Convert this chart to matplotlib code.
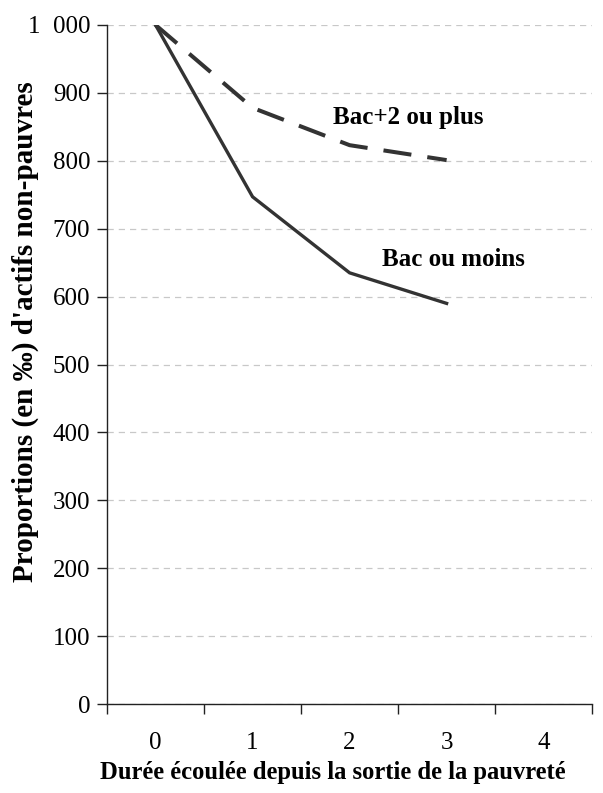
import matplotlib
matplotlib.use("Agg")
import matplotlib.pyplot as plt
import numpy as np

# données (en pour mille)
durees = [0, 1, 2, 3, 4]
bac_moins = [1000, 747, 635, 590]
bac_plus2 = [1000, 878, 823, 801]
y_ticks = [0, 100, 200, 300, 400, 500, 600, 700, 800, 900, 1000]
y_labels = ["0", "100", "200", "300", "400", "500", "600", "700", "800", "900", "1  000"]

plt.rcParams['font.family'] = ['Liberation Serif', 'DejaVu Serif']

fig = plt.figure(figsize=(6.03, 7.93), dpi=100)
ax = fig.add_axes([0.1775, 0.1122, 0.8045, 0.8563])

col = '#333333'
ax.plot(durees[:len(bac_moins)], bac_moins, color=col, lw=2.4, solid_joinstyle='miter', zorder=3)
ax.plot(durees[:len(bac_plus2)], bac_plus2, color=col, lw=2.9, dashes=(7, 4), zorder=3)

ax.set_xlim(-0.5, 4.5)
ax.set_ylim(0, 1000)
ax.set_yticks(y_ticks)
ax.set_yticklabels(y_labels)
ax.set_xticks(durees)
ax.set_xticklabels([str(d) for d in durees])
ax.set_xticks(np.arange(-0.5, 4.6, 1), minor=True)
ax.tick_params(axis='x', which='major', length=0, pad=20, labelsize=18)
ax.tick_params(axis='x', which='minor', length=7, width=1, direction='out', color='#222222')
ax.tick_params(axis='y', length=7, width=1, pad=5, labelsize=18, color='#222222')

ax.yaxis.grid(True, color='#c8c8c8', linestyle=(0, (5, 4)), lw=0.9)
ax.set_axisbelow(True)
for s in ['top', 'right']:
    ax.spines[s].set_visible(False)
for s in ['left', 'bottom']:
    ax.spines[s].set_color('#222222')
    ax.spines[s].set_linewidth(1)

ax.text(1.83, 864, "Bac+2 ou plus", fontsize=18, fontweight='bold', va='center', ha='left')
ax.text(2.335, 655, "Bac ou moins", fontsize=18, fontweight='bold', va='center', ha='left')

fig.text(333 / 603, 1 - 773 / 793, "Durée écoulée depuis la sortie de la pauvreté",
         fontsize=17.7, fontweight='bold', ha='center', va='center')
fig.text(25 / 603, 1 - 332 / 793, "Proportions (en ‰) d'actifs non-pauvres",
         fontsize=21, fontweight='bold', ha='center', va='center', rotation=90)

fig.savefig("out.png", dpi=100)
